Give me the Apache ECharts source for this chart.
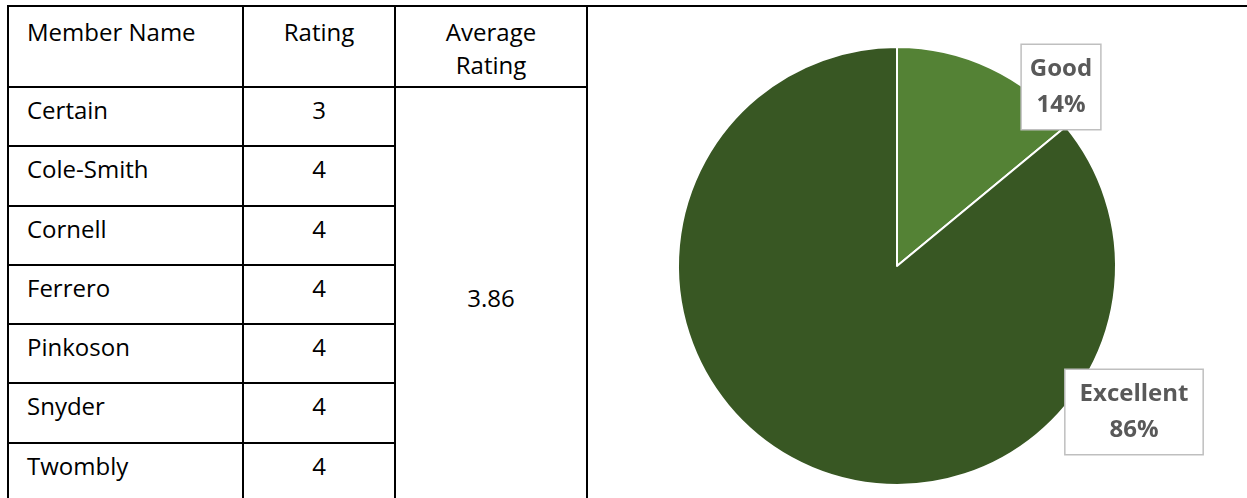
<!DOCTYPE html>
<html>
<head>
<meta charset="utf-8">
<script src="https://cdn.jsdelivr.net/npm/echarts@6/dist/echarts.min.js"></script>
<style>
    html, body { margin: 0; padding: 0; width: 1247px; height: 498px; overflow: hidden; background: #fff; }
    #ratings {
        position: absolute; left: 7px; top: 5px;
        border-collapse: collapse; table-layout: fixed;
        font-family: "Open Sans", sans-serif; font-size: 24px; color: #000;
    }
    #ratings td {
        border: 2px solid #000; padding: 0; vertical-align: top; line-height: 33px;
    }
    #ratings tr.head td { height: 81px; padding-top: 8px; box-sizing: border-box; }
    #ratings tr.row td { height: 59.3px; padding-top: 5px; box-sizing: border-box; }
    #ratings td.name { text-align: left; padding-left: 18px; }
    #ratings td.num { text-align: center; }
    #ratings td.avg { text-align: center; vertical-align: middle; padding-top: 0; }
    #topLine { position: absolute; left: 587px; top: 5px; width: 660px; height: 2px; background: #000; }
    #chart { position: absolute; left: 589px; top: 7px; width: 658px; height: 491px; }
</style>
</head>
<body>
<table id="ratings">
    <colgroup><col style="width:235px"><col style="width:152px"><col style="width:192px"></colgroup>
    <tbody id="tbody"></tbody>
</table>
<div id="topLine"></div>
<div id="chart"></div>
<script>
// Table data
const headers = ['Member Name', 'Rating', 'Average<br>Rating'];
const memberNames = ['Certain', 'Cole-Smith', 'Cornell', 'Ferrero', 'Pinkoson', 'Snyder', 'Twombly'];
const memberRatings = [3, 4, 4, 4, 4, 4, 4];
const averageRating = '3.86';

// Pie data
const pieNames = ['Good', 'Excellent'];
const pieValues = [14, 86];
const pieColors = ['#548235', '#385723'];

// Build table
const tbody = document.getElementById('tbody');
let html = '<tr class="head"><td class="name">' + headers[0] + '</td><td class="num">' + headers[1] +
    '</td><td class="num">' + headers[2] + '</td></tr>';
memberNames.forEach((name, i) => {
    html += '<tr class="row"><td class="name">' + name + '</td><td class="num">' + memberRatings[i] + '</td>';
    if (i === 0) {
        html += '<td class="avg" rowspan="' + memberNames.length + '">' + averageRating + '</td>';
    }
    html += '</tr>';
});
tbody.innerHTML = html;

// Label box placement (top-centre of box, chart px) and padding
const labelSpots = [[472, 38], [545, 363]];
const labelPads = [[6, 8], [6, 14]];

const chart = echarts.init(document.getElementById('chart'));
chart.setOption({
    animation: false,
    series: [{
        type: 'pie',
        center: [308, 259],
        radius: 219,
        startAngle: 90,
        clockwise: true,
        itemStyle: { borderColor: '#fff', borderWidth: 2 },
        data: pieNames.map((n, i) => ({
            name: n,
            value: pieValues[i],
            itemStyle: { color: pieColors[i] },
            label: { padding: labelPads[i] }
        })),
        label: {
            show: true,
            position: 'outside',
            formatter: '{b}\n{d}%',
            fontFamily: 'Open Sans',
            fontWeight: 'bold',
            fontSize: 24,
            lineHeight: 36,
            color: '#595959',
            align: 'center',
            backgroundColor: '#fff',
            borderColor: '#bfbfbf',
            borderWidth: 1.5
        },
        labelLine: { show: false },
        labelLayout: (params) => {
            const spot = labelSpots[params.dataIndex];
            return { x: spot[0], y: spot[1], align: 'center', verticalAlign: 'top' };
        }
    }]
});
</script>
</body>
</html>
